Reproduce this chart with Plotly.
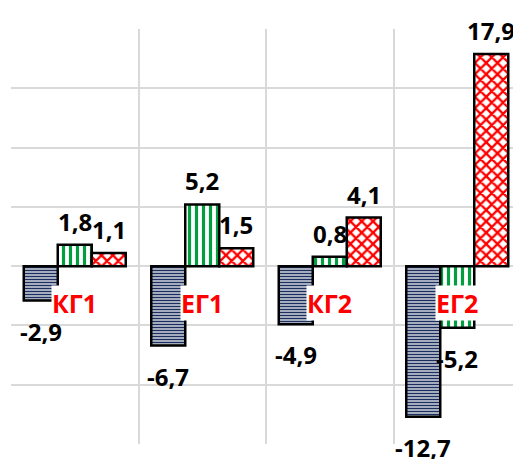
import plotly.graph_objects as go

categories = ["КГ1", "ЕГ1", "КГ2", "ЕГ2"]
series_a = [-2.9, -6.7, -4.9, -12.7]
series_b = [1.8, 5.2, 0.8, -5.2]
series_c = [1.1, 1.5, 4.1, 17.9]

def fmt(v):
    return f"{v:.1f}".replace(".", ",")

FONT = "Open Sans"
BARGAP = 0.2

def bar(vals, shape, fg, bg, size, solidity):
    return go.Bar(
        x=categories, y=vals,
        marker=dict(
            color=bg,
            line=dict(color="black", width=2.5),
            pattern=dict(shape=shape, fgcolor=fg, bgcolor=bg, size=size,
                         solidity=solidity, fillmode="replace"),
        ),
        showlegend=False,
    )

fig = go.Figure()
fig.add_trace(bar(series_a, "-", "#1B2F5E", "white", 3, 0.6))
fig.add_trace(bar(series_b, "|", "#00A040", "white", 7, 0.45))
fig.add_trace(bar(series_c, "x", "#FF0000", "white", 8, 0.5))

# category labels (red, on white background) just below the zero line
for c in categories:
    fig.add_annotation(
        x=c, y=0, yref="y", xref="x", text=c, showarrow=False,
        yshift=-37, bgcolor="white", borderpad=0,
        font=dict(family=FONT, size=25, color="#FF0000", weight="bold"),
    )

# value labels outside bar ends
n_series = 3
slot = (1 - BARGAP) / n_series
for j, vals in enumerate([series_a, series_b, series_c]):
    for i, v in enumerate(vals):
        pos = v >= 0
        fig.add_annotation(
            x=i + (j - (n_series - 1) / 2) * slot, y=v, xref="x", yref="y",
            text=fmt(v), showarrow=False,
            yanchor="bottom" if pos else "top",
            yshift=6 if pos else -13,
            borderpad=0,
            font=dict(family=FONT, size=24, color="black", weight="bold"),
        )

fig.update_layout(
    width=513, height=451,
    margin=dict(l=3, r=0, t=21, b=15),
    paper_bgcolor="white", plot_bgcolor="white",
    barmode="group", bargap=BARGAP, bargroupgap=0,
    xaxis=dict(tickson="boundaries", showgrid=True, gridcolor="#D9D9D9",
               gridwidth=1.5, showticklabels=False, ticks="", showline=False,
               zeroline=False),
    yaxis=dict(range=[-15, 20], dtick=5, showgrid=True, gridcolor="#D9D9D9",
               gridwidth=1.5, showticklabels=False, ticks="", zeroline=True,
               zerolinecolor="#D9D9D9", zerolinewidth=1.5),
)

fig.write_html("out.html")
